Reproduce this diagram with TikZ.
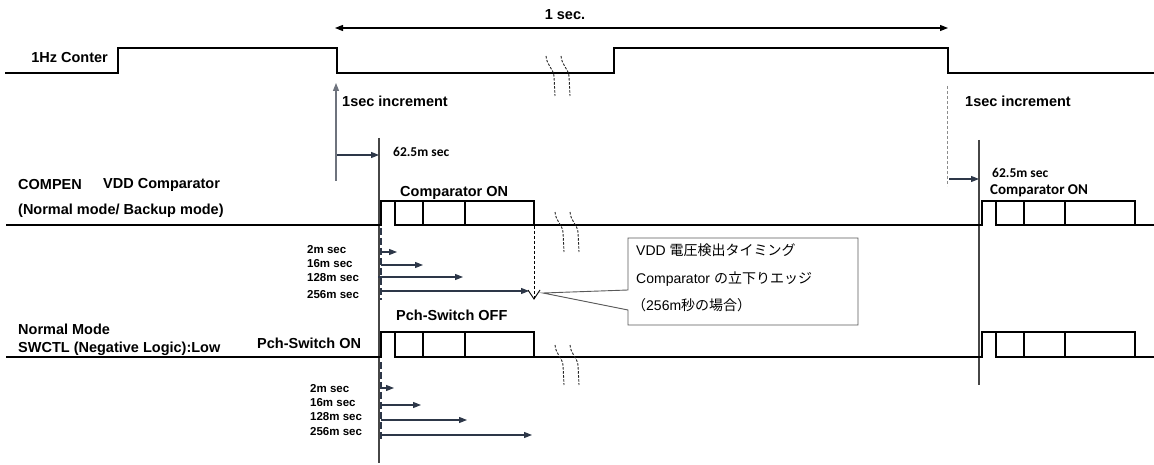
\documentclass[tikz,border=0pt]{standalone}
\usepackage{fontspec}
\setmainfont{Liberation Sans}
\newfontfamily\calfont{Carlito}
\newfontfamily\jpfont{Noto Sans CJK JP}
\usetikzlibrary{arrows.meta}
\definecolor{arrowc}{RGB}{45,55,72}
\definecolor{grayarr}{RGB}{110,115,125}
\definecolor{vlinec}{RGB}{70,70,70}
\begin{document}
\begin{tikzpicture}[x=1pt,y=-1pt,
  sig/.style={line width=1.3pt,draw=black},
  vline/.style={line width=1.2pt,draw=vlinec},
  lbl/.style={font=\fontsize{14.5}{16}\selectfont\bfseries,inner sep=0pt,anchor=west},
  sml/.style={font=\fontsize{11.5}{13}\selectfont\bfseries,inner sep=0pt,anchor=west},
  clb/.style={font=\calfont\fontsize{15}{17}\selectfont\bfseries,inner sep=0pt,anchor=west},
  clbs/.style={font=\calfont\fontsize{13.5}{15}\selectfont\bfseries,inner sep=0pt,anchor=west},
  jtxt/.style={font=\fontsize{14}{16}\selectfont,inner sep=0pt,anchor=west},
  tarr/.style={line width=1.1pt,draw=arrowc,-{Triangle[length=8pt,width=6pt]}},
  garr/.style={line width=1.1pt,draw=grayarr,-{Triangle[length=8pt,width=6pt]}},
  thdash/.style={line width=2.4pt,draw=arrowc,dash pattern=on 7pt off 3pt},
  brk/.style={dash pattern=on 2.5pt off 1.5pt,line width=0.9pt,draw=black!85},
  brkpair/.pic={
    \draw[brk] (0,0) .. controls (1,10) and (7,12) .. (8,20) -- (9,40);
    \draw[brk] (15,0) .. controls (16,10) and (22,12) .. (23,20) -- (24,40);
  },
]
\useasboundingbox (0,0) rectangle (1154,465);

% ---------- top: 1 sec ----------
\coordinate (secL) at (335,28);
\coordinate (secR) at (948,28);
\draw[line width=1.1pt,{Triangle[length=8pt,width=6pt]}-{Triangle[length=8pt,width=6pt]}] (secL) -- (secR);
\node[lbl,anchor=center] (onesec) at (565,15) {1 sec.};

% ---------- 1Hz counter ----------
\node[lbl,anchor=east] (hz) at (108,58) {1Hz Conter};
\draw[sig] (5,73) -- (118,73) -- (118,48) -- (337,48) -- (337,73) -- (614,73) -- (614,48) -- (948,48) -- (948,73) -- (1154,73);
\pic at (546,56) {brkpair};

% ---------- left increment ----------
\coordinate (incB) at (336,181);
\coordinate (incT) at (336,83);
\draw[garr] (incB) -- (incT);
\node[lbl] (inc1) at (342,101) {1sec increment};
\coordinate (vtop) at (379,138);
\coordinate (vbot) at (379,463);
\draw[vline] (vtop) -- (vbot);
\coordinate (d62a) at (337,155);
\coordinate (d62b) at (379,155);
\draw[tarr] (d62a) -- (d62b);
\node[clbs] (m62a) at (393,152) {62.5m sec};

% ---------- right increment ----------
\coordinate (rincT) at (947,86);
\coordinate (rincB) at (947,186);
\draw[line width=1pt,draw=black!45,dash pattern=on 3pt off 2pt] (rincT) -- (rincB);
\node[lbl] (inc2) at (965,101) {1sec increment};
\coordinate (rvtop) at (979,140);
\coordinate (rvbot) at (979,385);
\draw[vline] (rvtop) -- (rvbot);
\coordinate (r62a) at (949,179);
\coordinate (r62b) at (979,179);
\draw[tarr] (r62a) -- (r62b);
\node[clbs] (m62b) at (992,173) {62.5m sec};
\node[clb] (conr) at (990,191) {Comparator ON};

% ---------- COMPEN ----------
\node[lbl] (compen) at (18,185) {COMPEN};
\node[lbl] (vddc) at (103,185) {VDD Comparator};
\node[lbl] (nbm) at (18,211) {(Normal mode/ Backup mode)};
\node[lbl] (conl) at (400,193) {Comparator ON};
\draw[sig] (6,225) -- (381,225) -- (381,201) -- (534,201) -- (534,225);
\draw[sig] (395,201) -- (395,225) -- (982,225) -- (982,201) -- (1135,201) -- (1135,225);
\draw[sig] (996,201) -- (996,225) -- (1154,225);
\foreach \xx in {423,465,1024,1065} \draw[sig] (\xx,201) -- (\xx,225);
\pic at (555,212) {brkpair};

\draw[thdash] (381,228) -- (381,300);
\node[sml] (a2) at (307,250) {2m sec};
\node[sml] (a16) at (307,264) {16m sec};
\node[sml] (a128) at (307,278) {128m sec};
\node[sml] (a256) at (307,295) {256m sec};
\draw[tarr] (381,252) -- (397,252);
\draw[tarr] (381,265) -- (423,265);
\draw[tarr] (378,277) -- (463,277);
\draw[tarr] (381,291) -- (529,291);

\coordinate (fallT) at (534,226);
\coordinate (fallB) at (534,299);
\draw[densely dashed,line width=0.9pt] (fallT) -- (fallB);
\draw[line width=0.9pt] (528,290) -- (fallB) -- (540,290);

% ---------- callout ----------
\coordinate (tip) at (543,293);
\draw[line width=0.9pt,draw=black!65,fill=white] (628,290) -- (628,238) -- (858,238) -- (858,325) -- (628,325) -- (628,310) -- (tip) -- cycle;
\node[jtxt] (c1) at (636,250) {VDD {\jpfont 電圧検出タイミング}};
\node[jtxt] (c2) at (636,279) {Comparator {\jpfont の立下りエッジ}};
\node[jtxt] (c3) at (632,305) {{\jpfont （}256m{\jpfont 秒の場合）}};

% ---------- Pch ----------
\node[lbl] (pswoff) at (396,315) {Pch-Switch OFF};
\node[lbl] (nm) at (18,329) {Normal Mode};
\node[lbl] (swctl) at (18,349) {SWCTL (Negative Logic):Low};
\node[lbl] (pswon) at (257,343) {Pch-Switch ON};
\draw[sig] (6,357) -- (381,357) -- (381,332) -- (534,332) -- (534,357);
\draw[sig] (395,332) -- (395,357) -- (982,357) -- (982,332) -- (1135,332) -- (1135,357);
\draw[sig] (996,332) -- (996,357) -- (1154,357);
\foreach \xx in {423,465,1024,1065} \draw[sig] (\xx,332) -- (\xx,357);
\pic at (555,345) {brkpair};

\draw[thdash] (381,362) -- (381,440);
\node[sml] (b2) at (310,389) {2m sec};
\node[sml] (b16) at (310,403) {16m sec};
\node[sml] (b128) at (310,417) {128m sec};
\node[sml] (b256) at (310,432) {256m sec};
\draw[tarr] (381,388) -- (394,388);
\draw[tarr] (381,405) -- (421,405);
\draw[tarr] (381,420) -- (467,420);
\draw[tarr] (381,435) -- (532,435);
\end{tikzpicture}
\end{document}
